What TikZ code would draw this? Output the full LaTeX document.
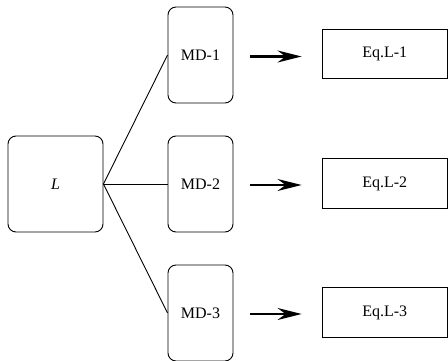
\documentclass[tikz,border=0pt]{standalone}
\usepackage{fontspec}
\setmainfont{Liberation Serif}
\usetikzlibrary{arrows.meta}
\begin{document}
\begin{tikzpicture}[x=1pt,y=-1pt,
  every node/.style={font=\fontsize{16}{18}\selectfont,inner sep=0pt},
  rbox/.style={draw,line width=0.9pt,rounded corners=8pt},
  mdbox/.style={rbox,minimum width=65pt,minimum height=96pt},
  eqbox/.style={draw,line width=0.9pt,minimum width=125.5pt,minimum height=49.5pt},
  link/.style={line width=0.9pt},
  flow/.style={line width=2.2pt,shorten <=17pt,shorten >=20pt,
    -{Stealth[length=24pt,width=12pt,inset=8pt]}}]
\useasboundingbox (0,0) rectangle (448,361);
% source block
\node[rbox,minimum width=95pt,minimum height=96pt,font=\fontsize{16}{18}\selectfont\itshape]
  (L) at (55.5,184) {L};
% intermediate blocks
\node[mdbox] (md1) at (200.5,55) {MD-1};
\node[mdbox] (md2) at (200.5,184) {MD-2};
\node[mdbox] (md3) at (200.5,313) {MD-3};
% equation blocks
\node[eqbox] (eq1) at (384.75,54) {Eq.L-1};
\node[eqbox] (eq2) at (384.75,183.5) {Eq.L-2};
\node[eqbox] (eq3) at (384.75,312.5) {Eq.L-3};
% connectors
\draw[link] (L.east) -- (md1.west);
\draw[link] (L.east) -- (md2.west);
\draw[link] (L.east) -- (md3.west);
\draw[flow] ([yshift=-1.5pt]md1.east) -- ([yshift=-1.5pt]eq1.west |- md1.east);
\draw[flow] ([yshift=-1pt]md2.east) -- ([yshift=-1pt]eq2.west |- md2.east);
\draw[flow] ([yshift=-1pt]md3.east) -- ([yshift=-1pt]eq3.west |- md3.east);
\end{tikzpicture}
\end{document}
